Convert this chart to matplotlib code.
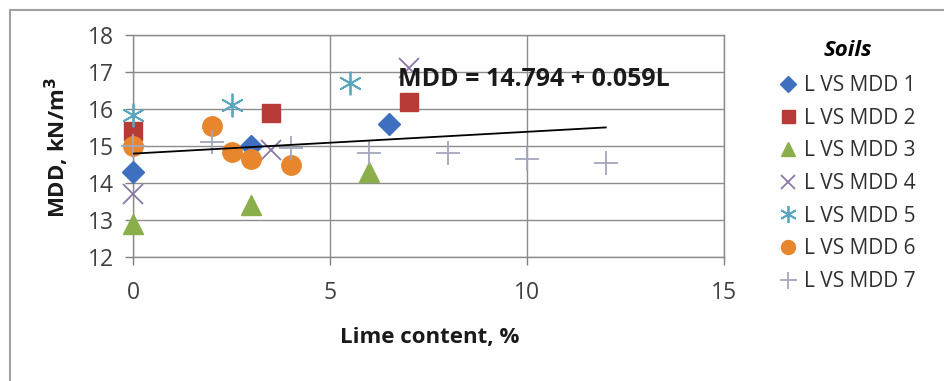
import matplotlib
matplotlib.use("Agg")
import matplotlib.pyplot as plt
from matplotlib.lines import Line2D
from matplotlib.patches import Rectangle
import numpy as np

plt.rcParams['font.family'] = ['Open Sans', 'DejaVu Sans']

# ---- data ----
s1_x = [0, 3, 6.5]
s1_y = [14.3, 15.0, 15.6]
s2_x = [0, 3.5, 7]
s2_y = [15.4, 15.9, 16.2]
s3_x = [0, 3, 6]
s3_y = [12.9, 13.4, 14.3]
s4_x = [0, 3.5, 7]
s4_y = [13.7, 14.9, 17.1]
s5_x = [0, 2.5, 5.5]
s5_y = [15.85, 16.1, 16.7]
s6_x = [0, 2, 2.5, 3, 4]
s6_y = [15.0, 15.55, 14.85, 14.65, 14.5]
s7_x = [0, 2, 4, 6, 8, 10, 12]
s7_y = [15.0, 15.1, 14.95, 14.8, 14.8, 14.65, 14.55]

series_labels = ["L VS MDD 1", "L VS MDD 2", "L VS MDD 3", "L VS MDD 4",
                 "L VS MDD 5", "L VS MDD 6", "L VS MDD 7"]
trend_intercept = 14.794
trend_slope = 0.059
trend_x = [0, 12]
equation_text = "MDD = 14.794 + 0.059L"

x_ticks = [0, 5, 10, 15]
y_ticks = [12, 13, 14, 15, 16, 17, 18]

# ---- styles ----
styles = [
    dict(marker='D', color='#3F6FBF', ms=11, mec='#3F6FBF'),
    dict(marker='s', color='#B83A36', ms=13, mec='#B83A36'),
    dict(marker='^', color='#8AAE4A', ms=14, mec='#8AAE4A'),
    dict(marker='x', color='#8A78A8', ms=14, mew=1.3),
    dict(marker=(6, 2, 0), color='#5AA5C0', ms=17, mew=1.3),
    dict(marker='o', color='#E8862E', ms=14, mec='#E8862E'),
    dict(marker='+', color='#A4A6BE', ms=17, mew=1.3),
]

fig = plt.figure(figsize=(9.44, 3.81), dpi=100)
W, H = 944, 381
ax = fig.add_axes([133 / W, 1 - 257 / H, (724 - 133) / W, (257 - 35) / H])

# outer frame
fig.patches.append(Rectangle((10 / W, -0.05), 1.2, 1 - 10 / H + 0.05,
                             transform=fig.transFigure, fill=False,
                             edgecolor='#A0A0A0', linewidth=1.5))

xs = [s1_x, s2_x, s3_x, s4_x, s5_x, s6_x, s7_x]
ys = [s1_y, s2_y, s3_y, s4_y, s5_y, s6_y, s7_y]
handles = []
for x, y, st, lab in zip(xs, ys, styles, series_labels):
    ax.plot(x, y, linestyle='none', label=lab, zorder=3, clip_on=False, **st)
    hst = dict(st)
    hst['ms'] = st['ms'] * 0.72
    handles.append(Line2D([], [], linestyle='none', **hst))

tx = np.array(trend_x, dtype=float)
ax.plot(tx, trend_intercept + trend_slope * tx, color='black', lw=1.3, zorder=4)

ax.text(6.72, 16.8, equation_text, fontsize=18, fontweight='bold',
        va='center', ha='left', zorder=5, color='#1A1A1A')

ax.set_xlim(0, 15)
ax.set_ylim(12, 18)
ax.set_xticks(x_ticks)
ax.set_yticks(y_ticks)
ax.tick_params(axis='both', labelsize=16.5, labelcolor='#404040', length=6,
               width=1, direction='out', color='#808080')
ax.tick_params(axis='x', pad=11)
ax.tick_params(axis='y', pad=8)
ax.grid(True, color='#8C8C8C', linewidth=1)
ax.set_axisbelow(True)
for sp in ax.spines.values():
    sp.set_color('#8C8C8C')
    sp.set_linewidth(1)

fig.text(430 / W, 1 - 337 / H, "Lime content, %", fontsize=16,
         fontweight='bold', ha='center', va='center', color='#1A1A1A')
fig.text(57 / W, 1 - 148 / H, "MDD, kN/m$^\\mathbf{3}$", fontsize=16,
         fontweight='bold', ha='center', va='center', rotation=90,
         color='#1A1A1A')

leg = fig.legend(handles, series_labels, loc='upper left',
                 bbox_to_anchor=(779 / W, 1 - 40 / H),
                 frameon=False, fontsize=15, title="Soils",
                 title_fontproperties={'weight': 'bold', 'style': 'italic',
                                       'size': 16},
                 handlelength=0.9, handletextpad=0.3, labelspacing=0.56,
                 borderaxespad=0, borderpad=0)
leg._legend_box.sep = 10
for t in leg.get_texts():
    t.set_color('#303030')

fig.savefig("out.png", dpi=100)
